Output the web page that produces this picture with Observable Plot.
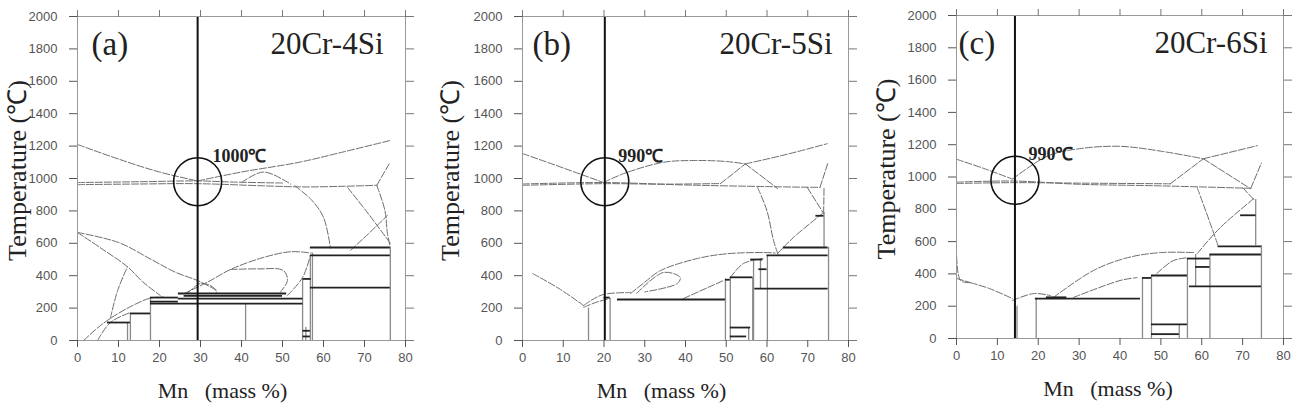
<!DOCTYPE html>
<html><head><meta charset="utf-8">
<script src="https://cdn.jsdelivr.net/npm/d3@7"></script>
<script src="https://cdn.jsdelivr.net/npm/@observablehq/plot@0.6"></script>
<style>
html,body{margin:0;padding:0;background:#fff;}
#wrap{position:relative;width:1296px;height:404px;overflow:hidden;background:#fff;}
.panel{position:absolute;top:0;}
</style></head><body><div id="wrap"></div>
<script>
const ticksX = [0,10,20,30,40,50,60,70,80];
const ticksY = [0,200,400,600,800,1000,1200,1400,1600,1800,2000];
const panelTags = ["(a)","(b)","(c)"];
const alloyNames = ["20Cr-4Si","20Cr-5Si","20Cr-6Si"];
const sectionMn = [29.3, 20.2, 14.3];
const circleT = [980, 980, 980];
const tempLabels = ["1000℃","990℃","990℃"];
const tempLabelMn = [32.9, 23.5, 17.6];
const tempLabelT = [1140, 1140, 1140];
const xTitle = "Mn   (mass %)";
const yTitle = "Temperature (℃)";

// phase boundaries [Mn, T]
const curvesA = [
 [[0,1210],[10,1120],[20,1040],[29.3,985]],
 [[29.3,985],[40,1040],[54,1100],[65,1165],[76.3,1235]],
 [[0,962],[15,966],[29.3,968],[45,955],[55,948],[65,952],[73,958]],
 [[0,975],[15,980],[29.3,985],[38,978],[50,972]],
 [[40,975],[45.4,1040],[52,965]],
 [[73,958],[76,1090]],
 [[53,955],[57,870],[60,760],[61.7,570]],
 [[65.9,944],[71,780],[76.3,600]],
 [[66.6,556],[71,660],[75.6,772]],
 [[73,958],[75,800],[75.6,660],[76.3,574]],
 [[0,667],[10,605],[18,500],[24,420],[29.3,370],[34,309]],
 [[0,667],[6,565],[12.2,455],[16,360],[20.2,278]],
 [[8,136],[9.8,309],[12.2,457]],
 [[1.5,0],[5,80],[8,136],[13,210],[17.8,262],[21,268]],
 [[4.9,0],[8,111],[12.9,173]],
 [[26.8,290],[30,352],[33.2,327],[34,290]],
 [[26,290],[31.7,360],[37.3,438],[45,510],[52,548],[57,540]],
 [[37.3,438],[44,442],[50.2,432],[51.2,370],[49.5,300]],
 [[51.2,278],[54.9,389],[56.8,525]]
];
const tiesA = [[7.3,12.9,111],[12.9,17.8,167],[17.8,24.6,265],[17.8,24.6,240],[17.8,55,228],[24.6,51,290],[26,50,276],[24.6,55,258],[55,57,380],[56.8,76.3,574],[56.8,76.3,525],[56.8,76.3,327],[55,56.8,60],[55,56.8,25]];
const vertsA = [[12.2,0,111],[12.9,0,167],[17.8,0,265],[41,0,228],[54.9,0,380],[55.7,0,80],[56.8,0,525],[57.3,0,540],[76.3,0,575]];

const curvesB = [
 [[0,1154],[10,1065],[19.9,975]],
 [[19.9,975],[24.8,1030],[34.6,1100],[42,1111],[50,1105],[54.7,1090]],
 [[54.7,1090],[65,1150],[74.8,1215]],
 [[48.6,969],[54.7,1090]],
 [[54.7,1090],[62.6,938]],
 [[0,966],[20,975],[40,960],[60,950],[73,945]],
 [[0,958],[20,968],[35,965],[48.6,969]],
 [[73,945],[75,1100]],
 [[57.7,944],[60,800],[61.6,617],[62.8,525]],
 [[69.9,944],[73.9,784]],
 [[73.9,784],[74,950]],
 [[62.6,537],[66.5,636],[73.9,790]],
 [[2.5,413],[9,320],[15,216]],
 [[15,216],[17,250],[20,285],[26.6,296]],
 [[15,205],[18,235],[21.5,260]],
 [[26.5,290],[30,360],[33.9,432],[42.9,506],[50,535],[59.1,543],[62,540]],
 [[28,290],[34.6,420],[38.7,389],[38,352],[30,300]],
 [[39.5,259],[49.3,370]],
 [[51,389],[54.2,475],[59,506]]
];
const tiesB = [[23.3,49.8,253],[20,21.5,265],[49.8,51,375],[51,56.5,390],[51,56,80],[51,55,25],[56,59,500],[58,60,440],[64,75,574],[60,75,525],[57,75,320],[72,74,770]];
const vertsB = [[16.2,0,200],[21.5,0,260],[49.8,0,380],[51,0,390],[55.5,0,80],[56.5,0,390],[56.7,0,500],[58.4,320,500],[60.1,0,525],[75.1,0,575],[74,575,790]];

const curvesC = [
 [[0,1110],[7,1050],[13.7,987]],
 [[13.7,987],[22.3,1130],[30,1175],[40,1190],[50,1160],[60.4,1113]],
 [[60.4,1113],[73.6,1194]],
 [[52.3,958],[60.4,1113]],
 [[60.4,1113],[71.9,928]],
 [[0,968],[14,975],[30,955],[50,945],[72,930]],
 [[0,960],[14,965],[30,962],[52.3,958]],
 [[72,930],[74.6,1087]],
 [[58.9,934],[62.1,711],[64,575]],
 [[70,934],[73,853]],
 [[58.9,526],[64.5,686],[73,872]],
 [[0,563],[1,359],[3.4,346]],
 [[0,372],[3.4,346]],
 [[3.4,346],[8,310],[13.7,247]],
 [[13.7,235],[18.8,278],[23,266]],
 [[23.7,254],[33.5,421],[41.8,500],[49.9,532],[58,532]],
 [[28.6,254],[40,359],[44.2,377]],
 [[49,402],[53,482],[56.5,500]]
];
const tiesC = [[19.3,45,247],[22,27,255],[45.5,47.7,375],[47.7,56.5,390],[47.7,56.5,88],[47.7,54.5,27],[56.5,62,495],[58.5,62,443],[62,74.6,520],[64,74.6,570],[69.5,73.3,763],[57,74.6,323]];
const vertsC = [[14.8,0,200],[19.5,0,250],[45.5,0,375],[47.7,0,390],[54.5,0,88],[56.5,0,495],[58.5,320,520],[62,0,520],[73.2,575,860],[74.6,0,575]];

const layout = [
  {left:0,   width:430, ml:77, mr:25, mt:16, mb:64, yDx:-60, xDx:-19, tagDx:14, nameDx:-22},
  {left:430, width:432, ml:92, mr:14, mt:16, mb:64, yDx:-72, xDx:-24, tagDx:10, nameDx:-16},
  {left:864, width:432, ml:92, mr:13, mt:15, mb:66, yDx:-70, xDx:-12, tagDx:2,  nameDx:-16}
];
const allCurves = [curvesA, curvesB, curvesC];
const allTies = [tiesA, tiesB, tiesC];
const allVerts = [vertsA, vertsB, vertsC];

const serif = "'Liberation Serif','Times New Roman',serif";
const wrap = document.getElementById("wrap");

for (let i = 0; i < 3; i++) {
  const L = layout[i];
  const rows = allCurves[i].flatMap((pts, k) => pts.map(([x, y]) => ({k, x, y})));
  const plot = Plot.plot({
    width: L.width, height: 404,
    marginLeft: L.ml, marginRight: L.mr, marginTop: L.mt, marginBottom: L.mb,
    x: {domain: [0, 80], label: null},
    y: {domain: [0, 2000], label: null},
    style: {fontFamily: "'Liberation Sans',Arial,sans-serif", background: "white", overflow: "visible"},
    marks: [
      Plot.line(rows, {x: "x", y: "y", z: "k", stroke: "#6e6e6e", strokeWidth: 1, strokeDasharray: "7 2", curve: "catmull-rom"}),
      Plot.ruleX(allVerts[i], {x: d => d[0], y1: d => d[1], y2: d => d[2], stroke: "#8a8a8a", strokeWidth: 1.3}),
      Plot.ruleY(allTies[i], {y: d => d[2], x1: d => d[0], x2: d => d[1], stroke: "#222", strokeWidth: 1.8}),
      Plot.ruleX([sectionMn[i]], {x: d => d, stroke: "#111", strokeWidth: 2}),
      Plot.dot([{x: sectionMn[i], y: circleT[i]}], {x: "x", y: "y", r: 24, stroke: "#111", strokeWidth: 1.6, fill: "none"}),
      Plot.frame({stroke: "#999"}),
      Plot.axisY(ticksY, {anchor: "left", tickSize: 8, tickPadding: 12, fontSize: 13, color: "#555", tickFormat: d => String(d), label: null}),
      Plot.axisY(ticksY, {anchor: "right", tickSize: 8, tickFormat: () => "", color: "#777", label: null}),
      Plot.axisX(ticksX, {anchor: "bottom", tickSize: 7, tickPadding: 5, fontSize: 13, color: "#555", tickFormat: d => String(d), label: null}),
      Plot.axisX(ticksX, {anchor: "top", tickSize: 7, tickFormat: () => "", color: "#777", label: null}),
      Plot.text([tempLabels[i]], {x: () => tempLabelMn[i], y: () => tempLabelT[i], text: d => d, textAnchor: "start", lineAnchor: "middle", fontSize: 18, fontWeight: "bold", fontFamily: serif, fill: "#222"}),
      Plot.text([panelTags[i]], {frameAnchor: "top-left", text: d => d, textAnchor: "start", lineAnchor: "middle", dx: L.tagDx, dy: 28, fontSize: 33, fontFamily: serif, fill: "#222"}),
      Plot.text([alloyNames[i]], {frameAnchor: "top-right", text: d => d, textAnchor: "end", lineAnchor: "middle", dx: L.nameDx, dy: 28, fontSize: 31, fontFamily: serif, fill: "#222"}),
      Plot.text([xTitle], {frameAnchor: "bottom", text: d => d, textAnchor: "middle", lineAnchor: "middle", dx: L.xDx, dy: 50, fontSize: 22, fontFamily: serif, fill: "#222"}),
      Plot.text([yTitle], {frameAnchor: "left", text: d => d, textAnchor: "middle", lineAnchor: "middle", dx: L.yDx, dy: -8, rotate: -90, fontSize: 26, fontFamily: serif, fill: "#222"})
    ]
  });
  const div = document.createElement("div");
  div.className = "panel";
  div.style.left = L.left + "px";
  div.appendChild(plot);
  wrap.appendChild(div);
}
</script></body></html>
